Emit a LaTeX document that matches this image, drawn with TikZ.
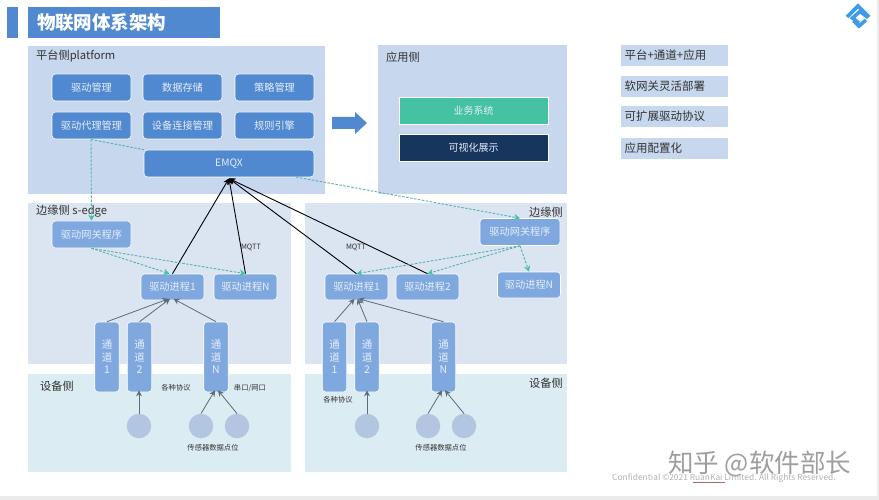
\documentclass[tikz,border=0pt]{standalone}
\usepackage{fontspec}
\setmainfont{Noto Sans CJK SC}
\usetikzlibrary{arrows.meta,calc}
\definecolor{platbg}{HTML}{C6D7EE}
\definecolor{edgebg}{HTML}{DBE4F1}
\definecolor{devbg}{HTML}{DBECF2}
\definecolor{boxdark}{HTML}{5189D0}
\definecolor{boxlight}{HTML}{7FA8DE}
\definecolor{circ}{HTML}{B3C6E1}
\definecolor{teal1}{HTML}{45C2A2}
\definecolor{navy}{HTML}{17365D}
\definecolor{dashc}{HTML}{55B0AE}
\definecolor{txt}{HTML}{333333}
\definecolor{logoc}{HTML}{3D9BEA}
\definecolor{arrowg}{HTML}{5F6B78}
\definecolor{boxtxt}{HTML}{E6EEF9}
\tikzset{
  panel/.style={fill=#1,draw=none,inner sep=0pt,outer sep=0pt},
  lab/.style={inner sep=0pt,text=txt,font=\fontsize{11.2}{13}\selectfont},
  small/.style={inner sep=0pt,text=txt,font=\fontsize{7.3}{9}\selectfont},
  dbox/.style={rounded corners=3.5pt,draw=white,line width=.6pt,fill=boxdark,text=boxtxt,inner sep=0pt,minimum width=79pt,minimum height=27pt,font=\fontsize{10.2}{12}\selectfont},
  lbox/.style={dbox,fill=boxlight},
  procbox/.style={lbox,minimum width=63pt,minimum height=26pt},
  chan/.style={lbox,minimum width=24.5pt,minimum height=70pt,align=center,font=\fontsize{10.5}{12.5}\selectfont},
  dot/.style={circle,fill=circ,inner sep=0pt,minimum size=24.5pt},
  listbox/.style={panel=platbg,minimum width=106pt,minimum height=21pt,text=txt,font=\fontsize{11.5}{13}\selectfont},
  blackln/.style={draw=black,line width=.9pt,{Stealth[length=6pt,width=6pt]}-},
  grayln/.style={draw=arrowg,line width=.8pt,-{Stealth[length=6pt,width=6pt]}},
  dashln/.style={draw=dashc,line width=.9pt,dash pattern=on 2.5pt off 1.5pt,-{Stealth[length=6pt,width=6.5pt,color=teal1,fill=teal1]}},
  dashplain/.style={draw=dashc,line width=.9pt,dash pattern=on 2.5pt off 1.5pt},
}
\begin{document}
\begin{tikzpicture}[x=1pt,y=-1pt]
\useasboundingbox (0,0) rectangle (879,500);
\fill[white] (0,0) rectangle (879,500);
\fill[black!8] (876.5,0) rectangle (879,500);
\fill[black!8] (0,496) rectangle (879,500);
% title
\fill[boxdark] (7,7) rectangle (18,38);
\node[panel=boxdark,minimum width=192pt,minimum height=31pt,text=white,font=\fontsize{18.5}{22}\selectfont\bfseries,anchor=west,text width=174pt,align=left] (title) at (28,22.5) {物联网体系架构};
% panels
\fill[platbg] (28,46) rectangle (325,194);
\fill[platbg] (378,45) rectangle (567,194);
\fill[edgebg] (28,203) rectangle (291,364);
\fill[edgebg] (305,203) rectangle (567,364);
\fill[devbg] (28,374) rectangle (291,472);
\fill[devbg] (305,374) rectangle (567,472);
% panel labels
\node[lab,anchor=west] (lplat) at (36,56) {平台侧platform};
\node[lab,anchor=west] (lapp) at (386,57) {应用侧};
\node[lab,anchor=west] (ledge) at (36,211) {边缘侧 s-edge};
\node[lab,anchor=east] (redge) at (563,212) {边缘侧};
\node[lab,anchor=west] (ldev) at (40,386) {设备侧};
\node[lab,anchor=east] (rdev) at (563,383) {设备侧};
% platform boxes
\node[dbox] (a1) at (91.5,87.5) {驱动管理};
\node[dbox] (a2) at (182.5,87.5) {数据存储};
\node[dbox] (a3) at (274.5,87.5) {策略管理};
\node[dbox] (b1) at (91.5,125.5) {驱动代理管理};
\node[dbox] (b2) at (182.5,125.5) {设备连接管理};
\node[dbox] (b3) at (274.5,125.5) {规则引擎};
\node[dbox,minimum width=170pt] (emqx) at (229,163.5) {EMQX};
% application
\node[panel=teal1,draw=white,line width=.6pt,minimum width=149pt,minimum height=27pt,text=boxtxt,font=\fontsize{10}{12}\selectfont] (biz) at (473.5,110.5) {业务系统};
\node[panel=navy,draw=white,line width=.6pt,minimum width=149pt,minimum height=27pt,text=boxtxt,font=\fontsize{10}{12}\selectfont] (vis) at (473.5,147.5) {可视化展示};
% block arrow
\fill[boxdark] (332,117) -- (355,117) -- (355,112) -- (367,123) -- (355,134) -- (355,129) -- (332,129) -- cycle;
% list
\node[listbox,anchor=west,text width=100pt,align=left,inner xsep=3.5pt] (l1) at (621,55.5) {平台+通道+应用};
\node[listbox,anchor=west,text width=100pt,align=left,inner xsep=3.5pt] (l2) at (621,86.5) {软网关灵活部署};
\node[listbox,anchor=west,text width=100pt,align=left,inner xsep=3.5pt] (l3) at (621,116.5) {可扩展驱动协议};
\node[listbox,anchor=west,text width=100pt,align=left,inner xsep=3.5pt] (l4) at (621,148.5) {应用配置化};
% left edge
\node[lbox] (gl) at (91.5,234.5) {驱动网关程序};
\node[procbox] (pl1) at (172.5,287) {驱动进程1};
\node[procbox] (pln) at (245.5,287) {驱动进程N};
\node[chan] (cl1) at (107,357) {通\\道\\1};
\node[chan] (cl2) at (139.5,357) {通\\道\\2};
\node[chan] (cln) at (216,357) {通\\道\\N};
\node[dot] (dl1) at (139,426) {};
\node[dot] (dl2) at (201,426) {};
\node[dot] (dl3) at (237,426) {};
% right edge
\node[lbox,minimum width=80pt] (gr) at (520,232) {驱动网关程序};
\node[procbox] (pr1) at (356.5,287) {驱动进程1};
\node[procbox] (pr2) at (427.5,287) {驱动进程2};
\node[procbox] (prn) at (529,285) {驱动进程N};
\node[chan] (cr1) at (334.5,357) {通\\道\\1};
\node[chan] (cr2) at (367,357) {通\\道\\2};
\node[chan] (crn) at (443.5,357) {通\\道\\N};
\node[dot] (dr1) at (367,426) {};
\node[dot] (dr2) at (428,426) {};
\node[dot] (dr3) at (464,426) {};
% small labels
\node[small] (m1) at (251,247) {MQTT};
\node[small] (m2) at (356,247) {MQTT};
\node[small] (s1) at (176,388) {各种协议};
\node[small] (s2) at (250,388) {串口/网口};
\node[small] (s3) at (213,448) {传感器数据点位};
\node[small] (s4) at (338,400) {各种协议};
\node[small] (s5) at (441,448) {传感器数据点位};
% hub
\coordinate (hub) at (229,178.5);
% black MQTT lines
\draw[blackln] (hub) -- (pl1.north);
\draw[blackln] (hub) -- (pln.north);
\draw[blackln] (hub) -- (pr1.north);
\draw[blackln] (hub) -- (pr2.north);
% dashed
\coordinate (bj) at (91,139.5);
\draw[dashplain] (bj) -- ([xshift=-85pt]emqx.north);
\draw[dashln] (bj) -- (gl.north);
\coordinate (ej) at (296,177);
\draw[dashln] (ej) -- (gr.north);
\draw[dashln] (gl.south) -- ([xshift=-3pt]pl1.north);
\draw[dashln] (gl.south) -- (pln.north);
\draw[dashln] (gr.south) -- (pr1.north);
\draw[dashln] (gr.south) -- (pr2.north);
\draw[dashln] (gr.south) -- (prn.north);
% gray arrows
\draw[grayln] (cl1.north) -- ([xshift=-4pt,yshift=1.5pt]pl1.south);
\draw[grayln] (cl2.north) -- ([xshift=-2.5pt,yshift=1.5pt]pl1.south);
\draw[grayln] (cln.north) -- ([xshift=1pt,yshift=1.5pt]pl1.south);
\draw[grayln] (cr1.north) -- ([xshift=-2pt,yshift=1.5pt]pr1.south);
\draw[grayln] (cr2.north) -- ([xshift=1pt,yshift=1.5pt]pr1.south);
\draw[grayln] (crn.north) -- ([xshift=2pt,yshift=1.5pt]pr1.south);
\draw[grayln] (dl1.north) -- ([xshift=-.5pt,yshift=2pt]cl2.south);
\draw[grayln] (dl2.north) -- ([xshift=-1pt,yshift=2pt]cln.south);
\draw[grayln] (dl3.north) -- ([xshift=2pt,yshift=2pt]cln.south);
\draw[grayln] (dr1.north) -- ([yshift=2pt]cr2.south);
\draw[grayln] (dr2.north) -- ([xshift=-1.5pt,yshift=2pt]crn.south);
\draw[grayln] (dr3.north) -- ([xshift=1.5pt,yshift=2pt]crn.south);
% logo
\begin{scope}[draw=logoc,line width=3.6pt,line join=miter]
\draw (847,17) -- (858,6) -- (869,17);
\draw (868,17.5) -- (860,11.5) -- (852.5,18) -- (859,23) ;
\draw (853.5,20.5) -- (859,26) -- (866,20);
\end{scope}
% footer
\node[inner sep=0pt,text=black!38,font=\fontsize{25.5}{28}\selectfont,anchor=west] (wm) at (668,464) {知乎 @软件部长};
\node[inner sep=0pt,text=black!30,font=\fontsize{8.4}{10}\selectfont,anchor=west] (conf) at (612,478) {Confidential ©2021 RuanKai Limited. All Rights Reserved.};
\draw[red!45!black!60,line width=.4pt] (693,482.5) -- (725,482.5);
\end{tikzpicture}
\end{document}
